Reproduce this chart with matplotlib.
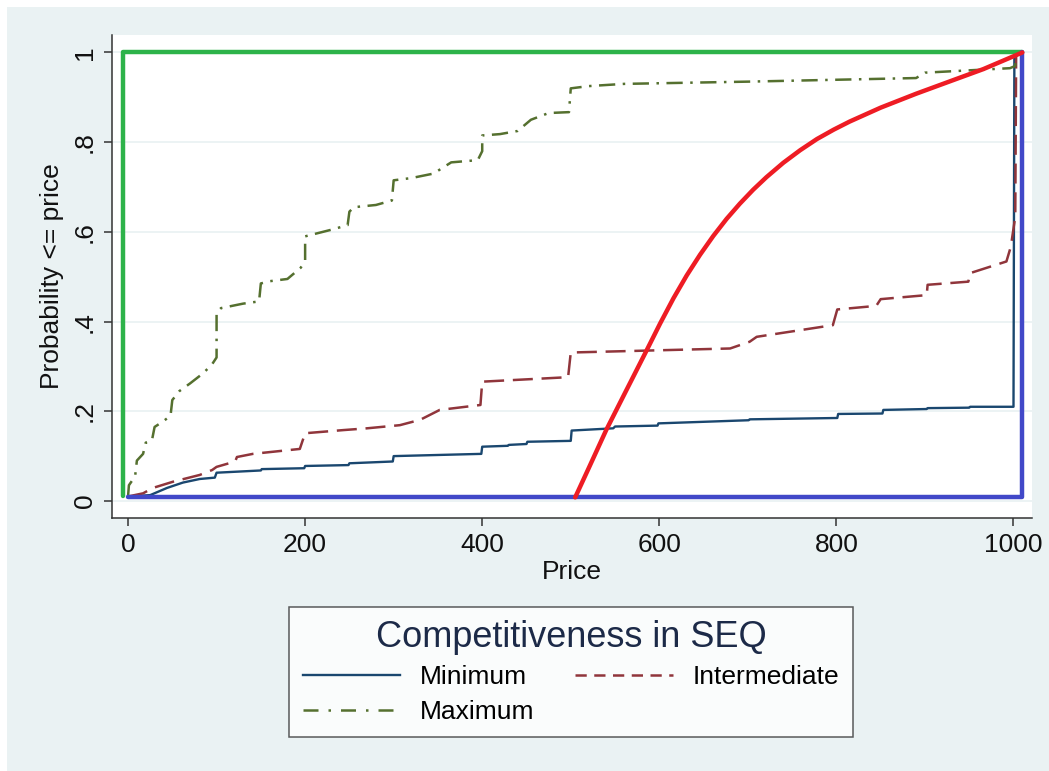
import matplotlib
matplotlib.use("Agg")
import matplotlib.pyplot as plt
from matplotlib.patches import Rectangle
from matplotlib.lines import Line2D

plt.rcParams['font.family'] = ['Liberation Sans', 'DejaVu Sans']

# empirical price CDFs by competitiveness (vertices of the step paths)
min_price = [0, 25, 44, 62, 81, 98, 100, 150, 151, 199, 200, 249, 250, 299, 300,
             399, 400, 429, 430, 450, 451, 500, 501, 548, 550, 598, 599, 701, 702,
             801, 802, 852, 853, 902, 903, 950, 951, 1000, 1001]
min_prob = [0.01, 0.013, 0.029, 0.041, 0.049, 0.052, 0.063, 0.068, 0.071, 0.073,
            0.078, 0.080, 0.084, 0.088, 0.100, 0.105, 0.121, 0.123, 0.125, 0.127,
            0.132, 0.134, 0.157, 0.162, 0.166, 0.168, 0.173, 0.180, 0.182, 0.185,
            0.194, 0.195, 0.203, 0.205, 0.207, 0.208, 0.210, 0.210, 1.0]

int_price = [0, 17, 28, 51, 81, 95, 100, 121, 123, 141, 194, 200, 243, 270, 307,
             330, 352, 398, 400, 497, 500, 680, 702, 710, 796, 801, 845, 850, 902,
             903, 949, 951, 992, 997, 1002, 1003]
int_prob = [0.01, 0.017, 0.029, 0.043, 0.058, 0.069, 0.076, 0.088, 0.098, 0.105,
            0.116, 0.151, 0.158, 0.162, 0.169, 0.181, 0.203, 0.214, 0.266, 0.276,
            0.331, 0.340, 0.355, 0.366, 0.392, 0.427, 0.435, 0.450, 0.459, 0.482,
            0.489, 0.508, 0.534, 0.567, 0.634, 1.0]

max_price = [0, 1, 8, 10, 17, 20, 27, 30, 40, 48, 50, 58, 70, 85, 95, 100, 100,
             105, 130, 148, 150, 160, 180, 195, 200, 200, 210, 230, 248, 250, 255,
             280, 298, 300, 320, 345, 365, 395, 400, 400, 420, 440, 455, 475, 498,
             500, 520, 560, 700, 890, 900, 996, 1002, 1002]
max_prob = [0.01, 0.035, 0.055, 0.09, 0.105, 0.13, 0.135, 0.165, 0.178, 0.19,
            0.225, 0.245, 0.262, 0.285, 0.305, 0.32, 0.42, 0.43, 0.44, 0.445,
            0.485, 0.49, 0.495, 0.52, 0.535, 0.59, 0.595, 0.605, 0.615, 0.645,
            0.655, 0.66, 0.67, 0.715, 0.72, 0.73, 0.755, 0.76, 0.78, 0.815, 0.818,
            0.825, 0.85, 0.865, 0.867, 0.92, 0.925, 0.93, 0.935, 0.943, 0.955,
            0.965, 0.97, 1.0]

# theoretical equilibrium CDF
eq_price = [505, 520, 540, 560, 586, 601, 616, 631, 646, 661, 676, 691, 706, 721,
            740, 759, 778, 797, 815, 850, 890, 930, 966, 1010]
eq_prob = [0.008, 0.072, 0.158, 0.236, 0.337, 0.396, 0.452, 0.503, 0.549, 0.591,
           0.629, 0.663, 0.694, 0.722, 0.754, 0.782, 0.807, 0.828, 0.846, 0.877,
           0.908, 0.937, 0.963, 1.0]

# bounding CDFs
upper_price = [-6, -6, 1010]
upper_prob = [0.01, 1.0, 1.0]
lower_price = [0, 1010, 1010]
lower_prob = [0.008, 0.008, 1.0]

xticks = [0, 200, 400, 600, 800, 1000]
yticks = [0, 0.2, 0.4, 0.6, 0.8, 1.0]
ytick_labels = ['0', '.2', '.4', '.6', '.8', '1']

NAVY, MAROON, OLIVE = '#1a476f', '#90353b', '#55702f'

W, H = 1049, 771
fig = plt.figure(figsize=(W / 100, H / 100), dpi=100, facecolor='white')
fig.patches.append(Rectangle((7 / W, 0), 1, 1 - 7 / H, transform=fig.transFigure,
                             facecolor='#eaf2f3', edgecolor='none', zorder=-10))

ax = fig.add_axes([112 / W, 253 / H, 920 / W, 483 / H])
ax.set_facecolor('white')
ax.set_xlim(-18.1, 1020.9)
ax.set_ylim(-0.038, 1.039)

for y in yticks:
    ax.axhline(y, color='#eaf2f3', lw=1.3, zorder=0)

ax.plot(min_price, min_prob, color=NAVY, lw=1.7, zorder=3)
ax.plot(int_price, int_prob, color=MAROON, lw=1.8, dashes=(8, 3.5), zorder=3)
ax.plot(max_price, max_prob, color=OLIVE, lw=1.8, dashes=(6.5, 3, 1, 3), zorder=3)

ax.plot(upper_price, upper_prob, color='#2db34a', lw=3.2, zorder=4,
        solid_capstyle='round')
ax.plot(lower_price, lower_prob, color='#4148c8', lw=3.2, zorder=4,
        solid_capstyle='round')
ax.plot(eq_price, eq_prob, color='#ee1c24', lw=3.2, zorder=5,
        solid_capstyle='round', solid_joinstyle='round')

for side in ['top', 'right']:
    ax.spines[side].set_visible(False)
for side in ['left', 'bottom']:
    ax.spines[side].set_color('#333333')
    ax.spines[side].set_linewidth(1.1)

ax.set_xticks(xticks)
ax.set_xticklabels([str(t) for t in xticks])
ax.set_yticks(yticks)
ax.set_yticklabels(ytick_labels, rotation=90, va='center')
ax.tick_params(direction='out', length=6, width=1.1, color='#333333',
               labelsize=19, labelcolor='#111111', pad=5)

ax.set_xlabel('Price', fontsize=19, color='#111111', labelpad=2)
ax.set_ylabel('Probability <= price', fontsize=19, color='#111111', labelpad=6)

# legend keys drawn with shorter dash patterns, column-major order
keys = [Line2D([], [], color=NAVY, lw=1.7),
        Line2D([], [], color=OLIVE, lw=1.8, dashes=(6, 4, 1, 4)),
        Line2D([], [], color=MAROON, lw=1.8, dashes=(4.5, 3))]
names = ['Minimum', 'Maximum', 'Intermediate']
leg = fig.legend(keys, names, loc='center', bbox_to_anchor=(571 / W, 1 - 672 / H),
                 ncol=2, title='Competitiveness in SEQ', fontsize=19,
                 title_fontproperties={'size': 26}, frameon=True, fancybox=False,
                 handlelength=3.7, handletextpad=0.75, columnspacing=1.55,
                 labelspacing=0.4, borderpad=0.5)
leg.get_title().set_color('#1c2a48')
leg.get_frame().set_edgecolor('#333333')
leg.get_frame().set_linewidth(1.1)
leg.get_frame().set_facecolor('white')

fig.savefig('out.png', dpi=100, facecolor=fig.get_facecolor())
